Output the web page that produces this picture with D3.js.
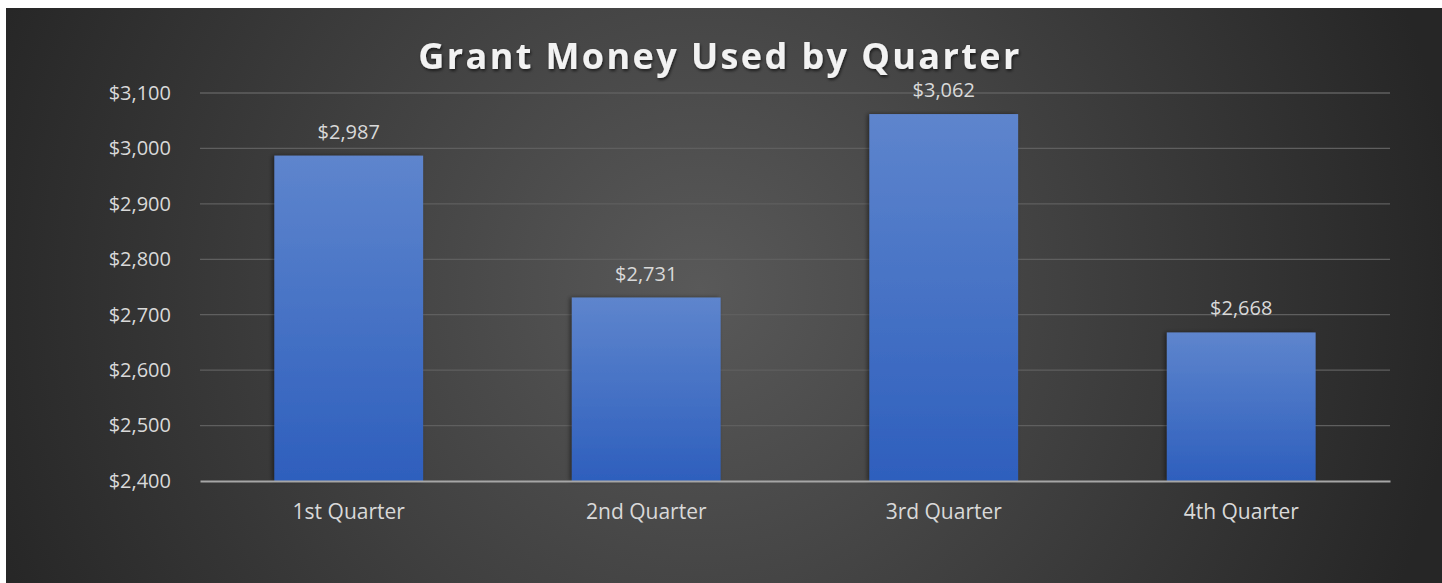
<!DOCTYPE html>
<html>
<head>
<meta charset="utf-8">
<script src="https://cdn.jsdelivr.net/npm/d3@7"></script>
<style>
  body { margin: 0; background: #fff; }
  svg { display: block; }
</style>
</head>
<body>
<div id="chart"></div>
<script>
var categories = ["1st Quarter", "2nd Quarter", "3rd Quarter", "4th Quarter"];
var values = [2987, 2731, 3062, 2668];
var yTicks = [2400, 2500, 2600, 2700, 2800, 2900, 3000, 3100];
var title = "Grant Money Used by Quarter";

var W = 1442, H = 583;
var margin = {top: 93, right: 52, bottom: 102, left: 200};
var width = W - margin.left - margin.right,
    height = H - margin.top - margin.bottom;

var svg = d3.select("#chart")
  .append("svg")
    .attr("width", W)
    .attr("height", H);

var defs = svg.append("defs");

var bg = defs.append("radialGradient")
    .attr("id", "bg")
    .attr("gradientUnits", "userSpaceOnUse")
    .attr("cx", 700).attr("cy", 290).attr("r", 760);
bg.append("stop").attr("offset", "0").attr("stop-color", "#595959");
bg.append("stop").attr("offset", "1").attr("stop-color", "#262626");

var barGrad = defs.append("linearGradient")
    .attr("id", "barGrad")
    .attr("x1", 0).attr("y1", 0).attr("x2", 0).attr("y2", 1);
barGrad.append("stop").attr("offset", "0").attr("stop-color", "#5e85cd");
barGrad.append("stop").attr("offset", "1").attr("stop-color", "#2e5fbd");

var shadow = defs.append("filter").attr("id", "shadow")
    .attr("x", "-20%").attr("y", "-20%").attr("width", "140%").attr("height", "140%");
shadow.append("feDropShadow")
    .attr("dx", -2).attr("dy", 0).attr("stdDeviation", 2)
    .attr("flood-color", "#000").attr("flood-opacity", 0.45);

var tshadow = defs.append("filter").attr("id", "tshadow");
tshadow.append("feDropShadow")
    .attr("dx", 1).attr("dy", 2).attr("stdDeviation", 1.5)
    .attr("flood-color", "#000").attr("flood-opacity", 0.6);

svg.append("rect")
    .attr("x", 6).attr("y", 8)
    .attr("width", W - 6).attr("height", H - 8)
    .attr("fill", "url(#bg)");

var g = svg.append("g")
    .attr("transform", "translate(" + margin.left + "," + margin.top + ")");

var x = d3.scaleBand()
    .domain(categories)
    .range([0, width])
    .paddingInner(0.5)
    .paddingOuter(0.25);

var y = d3.scaleLinear()
    .domain([2400, 3100])
    .range([height, 0]);

// gridlines
g.append("g")
  .selectAll("line")
  .data(yTicks.slice(1))
  .enter()
  .append("line")
    .attr("x1", 0)
    .attr("x2", width)
    .attr("y1", function(d){ return y(d) })
    .attr("y2", function(d){ return y(d) })
    .attr("stroke", "#5f5f5f")
    .attr("stroke-width", 1.3);

// y axis
var yAxis = g.append("g")
    .call(d3.axisLeft(y).tickValues(yTicks).tickSize(0).tickPadding(29)
      .tickFormat(function(d){ return "$" + d3.format(",")(d) }));
yAxis.select(".domain").remove();
yAxis.selectAll("text")
    .attr("fill", "#d9d9d9")
    .style("font-family", "Open Sans")
    .style("font-size", "20px");

// bars
g.selectAll(".bar")
    .data(values)
    .enter()
    .append("rect")
    .attr("class", "bar")
    .attr("x", function(d,i){ return x(categories[i]) })
    .attr("y", function(d){ return y(d) })
    .attr("width", x.bandwidth())
    .attr("height", function(d){ return height - y(d) })
    .attr("fill", "url(#barGrad)")
    .attr("filter", "url(#shadow)");

// value labels
g.selectAll(".lbl")
    .data(values)
    .enter()
    .append("text")
    .attr("class", "lbl")
    .attr("x", function(d,i){ return x(categories[i]) + x.bandwidth()/2 })
    .attr("y", function(d){ return y(d) - 17 })
    .attr("text-anchor", "middle")
    .attr("fill", "#d9d9d9")
    .style("font-family", "Open Sans")
    .style("font-size", "20px")
    .text(function(d){ return "$" + d3.format(",")(d) });

// x axis
var xAxis = g.append("g")
    .attr("transform", "translate(0," + height + ")")
    .call(d3.axisBottom(x).tickSize(0).tickPadding(23));
xAxis.select(".domain")
    .attr("stroke", "#a6a6a6")
    .attr("stroke-width", 2);
xAxis.selectAll("text")
    .attr("fill", "#d9d9d9")
    .style("font-family", "Open Sans")
    .style("font-size", "21px");

// title
svg.append("text")
    .attr("x", 720)
    .attr("y", 69)
    .attr("text-anchor", "middle")
    .attr("fill", "#f2f2f2")
    .attr("filter", "url(#tshadow)")
    .style("font-family", "Open Sans")
    .style("font-weight", "bold")
    .style("font-size", "36px")
    .style("letter-spacing", "2.4px")
    .text(title);
</script>
</body>
</html>
